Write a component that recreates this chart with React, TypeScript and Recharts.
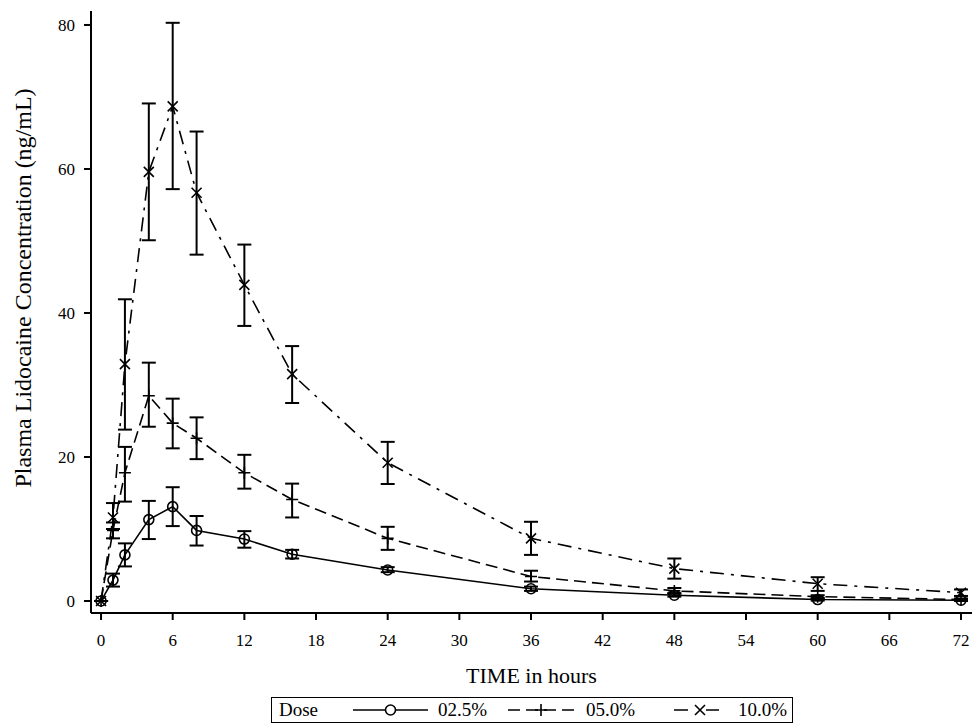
import React from 'react';
import {
  LineChart,
  Line,
  XAxis,
  YAxis,
  ErrorBar,
  Legend
} from 'recharts';

// sampling times (hours)
const times = [0, 1, 2, 4, 6, 8, 12, 16, 24, 36, 48, 60, 72];

// 02.5% dose: mean and error bar bounds
const dose25Mean = [0, 2.9, 6.4, 11.3, 13.1, 9.8, 8.6, 6.5, 4.3, 1.7, 0.8, 0.2, 0.1];
const dose25Low = [0, 2.0, 4.8, 8.6, 10.4, 7.7, 7.4, 5.9, 4.0, 1.4, 0.6, 0.05, 0];
const dose25High = [0, 3.8, 8.0, 13.9, 15.8, 11.8, 9.7, 7.1, 4.7, 2.0, 1.0, 0.35, 0.2];

// 05.0% dose
const dose50Mean = [0, 9.8, 17.8, 28.5, 24.7, 22.6, 17.8, 14.1, 8.7, 3.4, 1.4, 0.6, 0.2];
const dose50Low = [0, 8.7, 13.8, 24.2, 21.2, 19.7, 15.6, 11.6, 7.1, 2.7, 1.1, 0.4, 0.1];
const dose50High = [0, 10.9, 21.4, 33.1, 28.1, 25.5, 20.3, 16.3, 10.3, 4.2, 1.8, 0.8, 0.35];

// 10.0% dose
const dose100Mean = [0, 11.6, 32.9, 59.6, 68.7, 56.7, 43.9, 31.5, 19.2, 8.7, 4.5, 2.4, 1.15];
const dose100Low = [0, 10.0, 23.8, 50.1, 57.2, 48.1, 38.2, 27.5, 16.25, 6.4, 3.1, 1.4, 0.7];
const dose100High = [0, 13.6, 41.9, 69.1, 80.3, 65.2, 49.5, 35.4, 22.1, 11.0, 5.9, 3.3, 1.6];

const xTicks = [0, 6, 12, 18, 24, 30, 36, 42, 48, 54, 60, 66, 72];
const yTicks = [0, 20, 40, 60, 80];

const doseLabels = ['02.5%', '05.0%', '10.0%'];

const FONT = '"Liberation Serif", "Times New Roman", serif';
const DASHED = '12 6';
const DASH_DOT = '14 7 3 7';

const data = times.map((t, i) => ({
  t,
  d25: dose25Mean[i],
  d25Err: [dose25Mean[i] - dose25Low[i], dose25High[i] - dose25Mean[i]],
  d50: dose50Mean[i],
  d50Err: [dose50Mean[i] - dose50Low[i], dose50High[i] - dose50Mean[i]],
  d100: dose100Mean[i],
  d100Err: [dose100Mean[i] - dose100Low[i], dose100High[i] - dose100Mean[i]]
}));

const circleDot = (props: any) => {
  const { cx, cy, index } = props;
  return <circle key={`c-${index}`} cx={cx} cy={cy} r={5} fill="none" stroke="#000" strokeWidth={1.6} />;
};

const plusDot = (props: any) => {
  const { cx, cy, index } = props;
  return (
    <path key={`p-${index}`} d={`M${cx - 6},${cy}H${cx + 6}M${cx},${cy - 6}V${cy + 6}`}
      stroke="#000" strokeWidth={1.6} fill="none" />
  );
};

const crossDot = (props: any) => {
  const { cx, cy, index } = props;
  return (
    <path key={`x-${index}`} d={`M${cx - 5},${cy - 5}L${cx + 5},${cy + 5}M${cx - 5},${cy + 5}L${cx + 5},${cy - 5}`}
      stroke="#000" strokeWidth={1.6} fill="none" />
  );
};

function LegendIcon({ kind, width }: { kind: string; width: number }) {
  const dash = kind === 'plus' ? DASHED : kind === 'cross' ? DASH_DOT : undefined;
  const m = width / 2;
  return (
    <svg width={width} height={20} style={{ position: 'absolute', top: 2 }}>
      <line x1={0} y1={10} x2={width} y2={10} stroke="#000" strokeWidth={1.6} strokeDasharray={dash} />
      {kind === 'circle' && <circle cx={m} cy={10} r={5} fill="#fff" stroke="#000" strokeWidth={1.6} />}
      {kind === 'plus' && <path d={`M${m - 6},10H${m + 6}M${m},4V16`} stroke="#000" strokeWidth={1.6} />}
      {kind === 'cross' && (
        <g>
          <rect x={m - 6} y={3} width={12} height={14} fill="#fff" />
          <path d={`M${m - 5},5L${m + 5},15M${m - 5},15L${m + 5},5`} stroke="#000" strokeWidth={1.6} />
        </g>
      )}
    </svg>
  );
}

function DoseLegend() {
  const text: React.CSSProperties = { position: 'absolute', top: 0, lineHeight: '24px', fontSize: 19, fontFamily: FONT, color: '#000', whiteSpace: 'nowrap' };
  return (
    <div style={{ position: 'relative', width: 522, height: 26, border: '1.5px solid #000', boxSizing: 'border-box', background: '#fff', fontFamily: FONT }}>
      <span style={{ ...text, left: 7 }}>Dose</span>
      <div style={{ position: 'absolute', left: 81, top: 0 }}><LegendIcon kind="circle" width={75} /></div>
      <span style={{ ...text, left: 166 }}>{doseLabels[0]}</span>
      <div style={{ position: 'absolute', left: 236, top: 0 }}><LegendIcon kind="plus" width={66} /></div>
      <span style={{ ...text, left: 314 }}>{doseLabels[1]}</span>
      <div style={{ position: 'absolute', left: 402, top: 0 }}><LegendIcon kind="cross" width={52} /></div>
      <span style={{ ...text, left: 466 }}>{doseLabels[2]}</span>
    </div>
  );
}

export default function App() {
  const tickStyle = { fill: '#000', fontSize: 17, fontFamily: FONT, style: { fontFamily: FONT } };
  return (
    <div style={{ position: 'absolute', left: 0, top: 0, width: 974, height: 723, background: '#fff', fontFamily: FONT }}>
      <LineChart width={974} height={723} data={data} margin={{ top: 11, right: 2, left: 0, bottom: 30 }} style={{ fontFamily: FONT }}>
        <XAxis
          dataKey="t"
          type="number"
          domain={[-0.84, 72.92]}
          ticks={xTicks}
          allowDataOverflow
          height={80}
          stroke="#000"
          strokeWidth={2}
          tickSize={7}
          tickMargin={14}
          tick={tickStyle}
          label={{ value: 'TIME in hours', position: 'insideBottom', offset: 10, fill: '#000', fontSize: 22, fontFamily: FONT, style: { fontFamily: FONT } }}
        />
        <XAxis xAxisId="top" orientation="top" type="number" domain={[-0.84, 72.92]} height={0}
          tick={false} tickLine={false} stroke="#000" strokeWidth={2} />
        <YAxis
          type="number"
          domain={[-1.67, 81.94]}
          ticks={yTicks}
          allowDataOverflow
          width={91}
          stroke="#000"
          strokeWidth={2}
          tickSize={7}
          tickMargin={9}
          tick={tickStyle}
          label={() => (
            <text x={23} y={288} transform="rotate(-90, 23, 288)" textAnchor="middle" dominantBaseline="central"
              fill="#000" fontSize={24} fontFamily={FONT}>
              Plasma Lidocaine Concentration (ng/mL)
            </text>
          )}
        />
        <YAxis yAxisId="right" orientation="right" width={0} domain={[0, 1]}
          tick={false} tickLine={false} stroke="#000" strokeWidth={2} />
        <Legend
          verticalAlign="middle"
          align="center"
          layout="horizontal"
          wrapperStyle={{ left: 271, top: 697, width: 522, height: 26 }}
          content={() => <DoseLegend />}
        />
        <Line dataKey="d25" type="linear" stroke="#000" strokeWidth={1.6} dot={circleDot} activeDot={false} isAnimationActive={false}>
          <ErrorBar dataKey="d25Err" direction="y" width={7} stroke="#000" strokeWidth={2} />
        </Line>
        <Line dataKey="d50" type="linear" stroke="#000" strokeWidth={1.6} strokeDasharray={DASHED} dot={plusDot} activeDot={false} isAnimationActive={false}>
          <ErrorBar dataKey="d50Err" direction="y" width={7} stroke="#000" strokeWidth={2} />
        </Line>
        <Line dataKey="d100" type="linear" stroke="#000" strokeWidth={1.6} strokeDasharray={DASH_DOT} dot={crossDot} activeDot={false} isAnimationActive={false}>
          <ErrorBar dataKey="d100Err" direction="y" width={7} stroke="#000" strokeWidth={2} />
        </Line>
      </LineChart>
    </div>
  );
}
